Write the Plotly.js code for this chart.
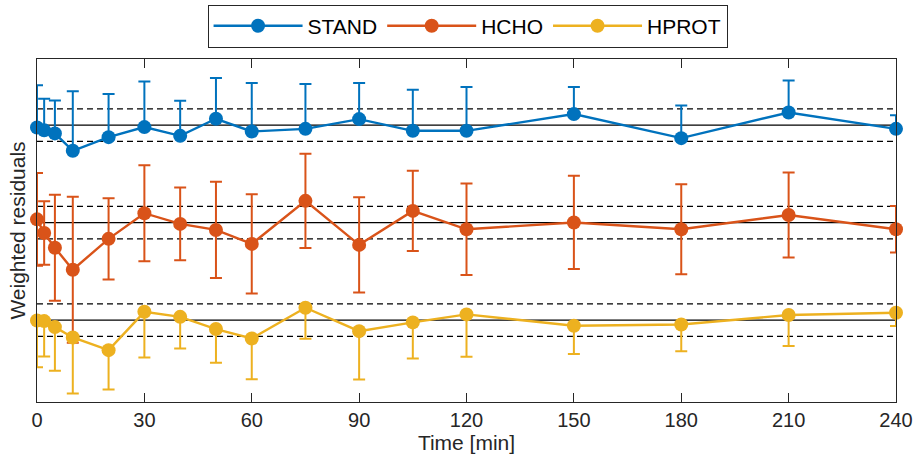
<!DOCTYPE html>
<html>
<head>
<meta charset="utf-8">
<script src="https://cdn.plot.ly/plotly-3.0.1.min.js"></script>
<style>html,body{margin:0;padding:0;background:#fff;}#chart{width:915px;height:462px;}</style>
</head>
<body>
<div id="chart"></div>
<script>
// Time points [min]
const time = [0, 2, 5, 10, 20, 30, 40, 50, 60, 75, 90, 105, 120, 150, 180, 210, 240];
const xTicks = [0, 30, 60, 90, 120, 150, 180, 210, 240];

// Weighted residuals and their errors
const standRes = [-0.15, -0.32, -0.51, -1.58, -0.74, -0.12, -0.66, 0.39, -0.39, -0.23, 0.37, -0.35, -0.35, 0.68, -0.80, 0.78, -0.23];
const standErr = [2.61, 1.94, 2.03, 3.66, 2.65, 2.81, 2.16, 2.51, 2.98, 2.76, 2.22, 2.53, 2.69, 1.66, 2.01, 1.97, 0.84];

const hchoRes = [0.20, -0.64, -1.55, -2.90, -1.00, 0.58, -0.08, -0.45, -1.31, 1.34, -1.37, 0.72, -0.41, 0.01, -0.41, 0.47, -0.41];
const hchoErr = [2.85, 1.95, 3.26, 4.49, 2.50, 2.95, 2.24, 2.96, 3.06, 2.90, 2.93, 2.47, 2.81, 2.87, 2.77, 2.62, 1.43];

const hprotRes = [-0.02, -0.06, -0.43, -1.07, -1.85, 0.51, 0.20, -0.55, -1.13, 0.76, -0.68, -0.14, 0.35, -0.35, -0.27, 0.31, 0.45];
const hprotErr = [2.88, 2.18, 2.68, 3.45, 2.42, 2.81, 1.95, 2.08, 2.51, 1.91, 2.98, 2.22, 2.61, 1.74, 1.65, 1.91, 0.82];

const seriesNames = ['STAND', 'HCHO', 'HPROT'];
const offsets = [0, -6, -12];   // vertical stacking of the series
const band = 1;                 // dashed reference band (+/-)

const colors = ['#0072BD', '#D95319', '#EDB120'];
const FONT = 'Liberation Sans, Arial, Helvetica, sans-serif';

const zeros = time.map(() => 0);
function shift(arr, off) { return arr.map(v => v + off); }

const traces = [
  {
    x: time, y: shift(standRes, offsets[0]), name: seriesNames[0],
    error_y: {type: 'data', symmetric: false, array: standErr, arrayminus: zeros, color: colors[0], thickness: 2, width: 6}
  },
  {
    x: time, y: shift(hchoRes, offsets[1]), name: seriesNames[1],
    error_y: {type: 'data', symmetric: true, array: hchoErr, color: colors[1], thickness: 2, width: 6}
  },
  {
    x: time, y: shift(hprotRes, offsets[2]), name: seriesNames[2],
    error_y: {type: 'data', symmetric: false, array: zeros, arrayminus: hprotErr, color: colors[2], thickness: 2, width: 6}
  }
].map((t, i) => Object.assign(t, {
  type: 'scatter', mode: 'lines+markers',
  line: {color: colors[i], width: 2.4},
  marker: {color: colors[i], size: 14},
  cliponaxis: false
}));

const shapes = [];
offsets.forEach(off => {
  shapes.push({type: 'line', xref: 'paper', x0: 0, x1: 1, yref: 'y', y0: off, y1: off,
               line: {color: '#000000', width: 1.2}, layer: 'below'});
  [off + band, off - band].forEach(v => shapes.push({type: 'line', xref: 'paper', x0: 0, x1: 1, yref: 'y', y0: v, y1: v,
               line: {color: '#000000', width: 1.2, dash: '6px,4px'}, layer: 'below'}));
});

const layout = {
  width: 915, height: 462,
  margin: {l: 37, r: 19, t: 59, b: 60},
  paper_bgcolor: '#ffffff', plot_bgcolor: '#ffffff',
  font: {family: FONT, size: 20, color: '#262626'},
  showlegend: true,
  legend: {
    orientation: 'h', xref: 'container', yref: 'container',
    x: 0.511, xanchor: 'center', y: 0.99, yanchor: 'top',
    bordercolor: '#262626', borderwidth: 1, bgcolor: '#ffffff',
    itemwidth: 89, tracegroupgap: 0,
    font: {family: FONT, size: 21, color: '#000000'}
  },
  xaxis: {
    range: [0, 240], tickvals: xTicks, ticktext: xTicks.map(String),
    showline: true, linecolor: '#262626', linewidth: 1, mirror: 'ticks',
    ticks: 'inside', ticklen: 9, tickcolor: '#262626', tickwidth: 1,
    showgrid: false, zeroline: false,
    tickfont: {family: FONT, size: 20, color: '#262626'},
    title: {text: 'Time [min]', font: {family: FONT, size: 21, color: '#262626'}, standoff: 4}
  },
  yaxis: {
    range: [-17.04, 4.07],
    showline: true, linecolor: '#262626', linewidth: 1, mirror: true,
    ticks: '', showticklabels: false, showgrid: false, zeroline: false,
    title: {text: 'Weighted residuals', font: {family: FONT, size: 21, color: '#262626'}, standoff: 4}
  },
  shapes: shapes
};

Plotly.newPlot('chart', traces, layout, {displayModeBar: false, staticPlot: true});
</script>
</body>
</html>
